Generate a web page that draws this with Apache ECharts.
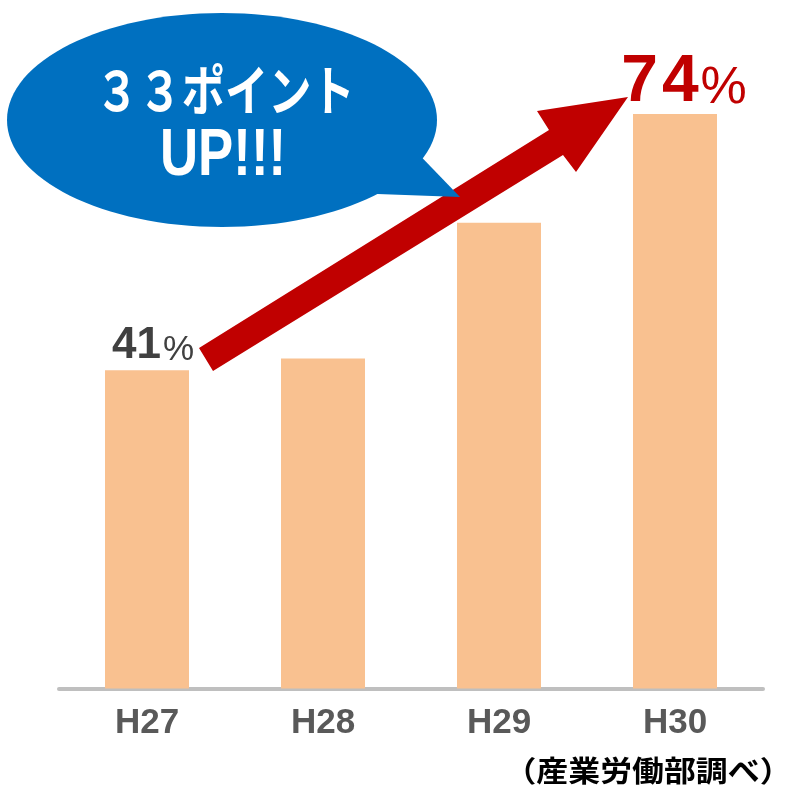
<!DOCTYPE html>
<html>
<head>
<meta charset="utf-8">
<script src="https://cdn.jsdelivr.net/npm/echarts@6/dist/echarts.min.js"></script>
<style>
html,body{margin:0;padding:0;background:#fff;}
#main{width:785px;height:786px;}
</style>
</head>
<body>
<div id="main"></div>
<script>
// ---- data ----
const categories = ['H27', 'H28', 'H29', 'H30'];
const values = [41, 42.5, 60, 74];
const showLabel = [true, false, false, true];
const labelText = ['41', '', '', '74'];
const bubbleLine1 = '３３ポイント';
const bubbleLine2 = 'UP!!!';
const sourceNote = '（産業労働部調べ）';

const chart = echarts.init(document.getElementById('main'), null, {renderer: 'canvas'});

const labelStyles = [
  {rich: {n: {fontFamily: 'Liberation Sans, Arial, sans-serif', fontWeight: 'bold', fontSize: 44, color: '#404040', lineHeight: 44},
          p: {fontFamily: '"Liberation Sans Narrow", "Liberation Sans", sans-serif', fontWeight: 'normal', fontSize: 35, color: '#404040', verticalAlign: 'bottom', lineHeight: 44, padding: [0, 0, 0, 2]}},
   offset: [6, 0], distance: 2},
  null, null,
  {rich: {n: {fontFamily: 'Liberation Sans, Arial, sans-serif', fontWeight: 'bold', fontSize: 66, color: '#C00000', lineHeight: 64, padding: [0, 2, 0, 2]},
          p: {fontFamily: '"Liberation Sans Narrow", "Liberation Sans", sans-serif', fontWeight: 'normal', fontSize: 52, color: '#C00000', verticalAlign: 'bottom', lineHeight: 64}},
   offset: [8, 0], distance: -1}
];

const barData = values.map((v, i) => {
  const item = {value: v};
  if (showLabel[i]) {
    const s = labelStyles[i];
    item.label = {
      show: true,
      position: 'top',
      distance: s.distance,
      offset: s.offset,
      formatter: labelText[i].split('').map(c => '{n|' + c + '}').join('') + '{p|%}',
      rich: s.rich
    };
  }
  return item;
});

chart.setOption({
  animation: false,
  backgroundColor: '#ffffff',
  grid: {left: 59, right: 22, top: 67.5, bottom: 97.5, containLabel: false},
  xAxis: {
    type: 'category',
    data: categories,
    axisLine: {show: true, lineStyle: {color: '#BFBFBF', width: 4}},
    axisTick: {show: false},
    axisLabel: {
      color: '#595959',
      fontFamily: '"Liberation Sans Narrow", "Liberation Sans", sans-serif',
      fontWeight: 'bold',
      fontSize: 35,
      margin: 17
    }
  },
  yAxis: {
    type: 'value',
    min: 0,
    max: 80,
    show: false,
    splitLine: {show: false}
  },
  series: [{
    type: 'bar',
    data: barData,
    barWidth: 84,
    itemStyle: {color: '#F9C190'},
    z: 2
  }],
  graphic: [
    {
      type: 'polygon',
      z: 10,
      shape: {points: [[199, 348], [549, 130], [537, 111], [628, 97], [576, 172], [563, 155], [213, 371]]},
      style: {fill: '#C00000'}
    },
    {
      type: 'ellipse',
      z: 11,
      shape: {cx: 222, cy: 120, rx: 215, ry: 107},
      style: {fill: '#0070C0'}
    },
    {
      type: 'polygon',
      z: 11,
      shape: {points: [[405, 140], [460, 197], [350, 193]]},
      style: {fill: '#0070C0'}
    },
    {
      type: 'text',
      z: 12,
      x: 225, y: 90,
      scaleX: 0.8,
      style: {
        text: bubbleLine1,
        fill: '#ffffff',
        font: 'bold 54px "Noto Sans CJK JP", sans-serif',
        textAlign: 'center',
        textVerticalAlign: 'middle'
      }
    },
    {
      type: 'text',
      z: 12,
      x: 223, y: 157,
      scaleX: 0.8,
      style: {
        text: bubbleLine2,
        fill: '#ffffff',
        font: 'bold 66px "Liberation Sans Narrow", "Liberation Sans", sans-serif',
        textAlign: 'center',
        textVerticalAlign: 'middle'
      }
    },
    {
      type: 'text',
      z: 12,
      x: 648, y: 771,
      scaleX: 1.1,
      style: {
        text: sourceNote,
        fill: '#000000',
        font: 'bold 29px "Noto Sans CJK JP", sans-serif',
        textAlign: 'center',
        textVerticalAlign: 'middle'
      }
    }
  ]
});
</script>
</body>
</html>
